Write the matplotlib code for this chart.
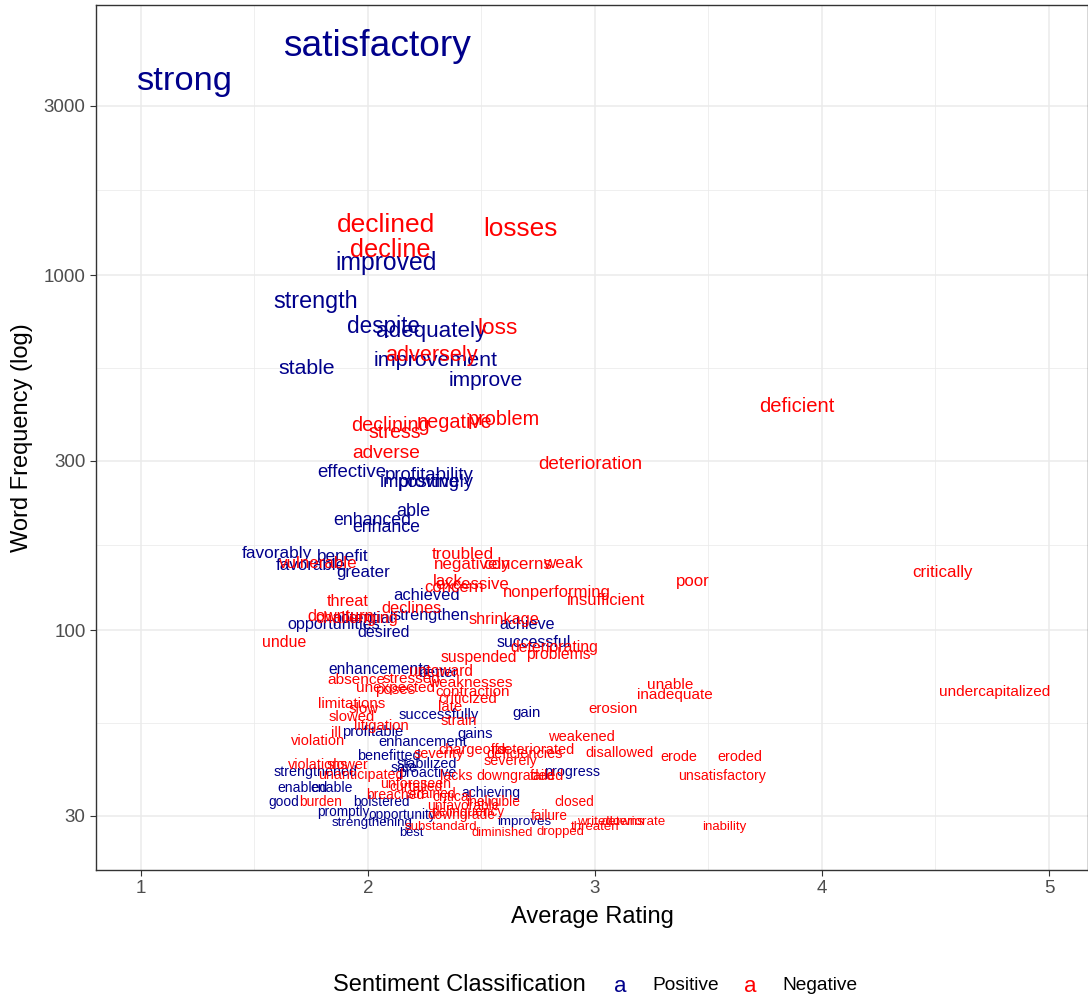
import numpy as np
from matplotlib import pyplot as plt
from matplotlib.ticker import FixedLocator, NullFormatter

plt.rcParams['font.family'] = ['Liberation Sans', 'DejaVu Sans']

POS_COLOR = '#00008B'
NEG_COLOR = '#FF0000'

# positive words: average rating, word frequency
pos_words = ['satisfactory', 'strong', 'improved', 'strength', 'despite', 'adequately',
             'improvement', 'stable', 'improve', 'effective', 'profitability', 'improving',
             'positively', 'able', 'enhanced', 'enhance', 'favorably', 'benefit', 'favorable',
             'greater', 'achieved', 'opportunities', 'desired', 'achieve', 'successful',
             'enhancements', 'better', 'successfully', 'gain', 'profitable', 'gains',
             'enhancement', 'benefitted', 'stabilized', 'strengthened', 'proactive', 'progress',
             'enabled', 'enable', 'achieving', 'good', 'bolstered', 'promptly', 'opportunity',
             'strengthening', 'improves', 'best', 'safe', 'potential', 'strengthen']
pos_rating = [2.04, 1.19, 2.08, 1.77, 2.07, 2.28,
              2.30, 1.73, 2.52, 1.93, 2.27, 2.23,
              2.30, 2.20, 2.02, 2.08, 1.60, 1.89, 1.75,
              1.98, 2.26, 1.85, 2.07, 2.70, 2.73,
              2.05, 2.31, 2.31, 2.70, 2.02, 2.47,
              2.24, 2.09, 2.26, 1.77, 2.26, 2.90,
              1.71, 1.84, 2.54, 1.63, 2.06, 1.89, 2.15,
              2.02, 2.69, 2.19, 2.16, 1.98, 2.28]
pos_freq = [4390, 3500, 1080, 840, 714, 695,
            576, 547, 506, 277, 273, 261,
            261, 216, 203, 195, 164, 161, 152,
            145, 125, 104, 98.7, 104, 92.5,
            77.6, 75.7, 57.6, 58.4, 51.6, 50.9,
            48.3, 44.2, 41.9, 39.8, 39.5, 39.8,
            35.9, 35.9, 34.7, 32.8, 32.8, 30.7, 30.1,
            28.6, 28.8, 26.8, 40.9, 108, 110]

# negative words
neg_words = ['declined', 'losses', 'decline', 'loss', 'adversely', 'deficient', 'problem',
             'negative', 'declining', 'stress', 'adverse', 'deterioration', 'troubled',
             'negatively', 'concerns', 'weak', 'vulnerable', 'lack', 'excessive', 'concern',
             'nonperforming', 'insufficient', 'poor', 'critically', 'threat', 'declines',
             'shrinkage', 'undue', 'deteriorating', 'problems', 'suspended', 'absence',
             'stressed', 'weaknesses', 'unexpected', 'poses', 'contraction', 'criticized',
             'limitations', 'late', 'slow', 'slowed', 'erosion', 'strain', 'litigation', 'ill',
             'weakened', 'violation', 'severity', 'chargeoffs', 'deteriorated', 'deficiencies',
             'severely', 'disallowed', 'erode', 'eroded', 'violations', 'slower',
             'unanticipated', 'lacks', 'downgraded', 'failed', 'unsatisfactory', 'unforeseen',
             'curtailed', 'strained', 'breached', 'critical', 'burden', 'unfavorable',
             'ineligible', 'closed', 'delinquency', 'downgrade', 'failure', 'substandard',
             'diminished', 'dropped', 'threaten', 'writedowns', 'deteriorate', 'inability',
             'undercapitalized', 'inadequate', 'unable', 'untoward', 'downturn', 'challenging']
neg_rating = [2.08, 2.67, 2.10, 2.57, 2.28, 3.89, 2.60,
              2.38, 2.10, 2.12, 2.08, 2.98, 2.42,
              2.46, 2.66, 2.86, 1.78, 2.35, 2.46, 2.38,
              2.83, 3.05, 3.43, 4.53, 1.91, 2.19,
              2.60, 1.63, 2.82, 2.84, 2.49, 1.95,
              2.19, 2.45, 2.12, 2.12, 2.46, 2.44,
              1.93, 2.36, 1.98, 1.93, 3.08, 2.40, 2.06, 1.86,
              2.94, 1.78, 2.31, 2.46, 2.74, 2.69,
              2.63, 3.11, 3.37, 3.64, 1.78, 1.91,
              1.97, 2.39, 2.65, 2.79, 3.56, 2.21,
              2.21, 2.28, 2.12, 2.37, 1.79, 2.42,
              2.55, 2.91, 2.44, 2.41, 2.80, 2.32,
              2.59, 2.85, 3.00, 3.07, 3.17, 3.57,
              4.76, 3.35, 3.33, 2.32, 1.88, 1.95]
neg_freq = [1384, 1349, 1176, 709, 595, 427, 391,
            383, 378, 359, 315, 292, 163,
            153, 153, 154, 154, 137, 134, 132,
            128, 121, 137, 145, 120, 115,
            107, 92.5, 89.6, 85.6, 83.9, 72.3,
            72.7, 70.9, 68.7, 67.8, 66.9, 63.9,
            61.9, 60.7, 59.9, 56.9, 59.9, 55.4, 53.7, 51.3,
            50.0, 48.7, 44.8, 45.9, 45.9, 44.8,
            42.8, 45.1, 43.9, 43.9, 41.7, 41.7,
            39.0, 38.8, 38.8, 38.8, 38.8, 36.8,
            36.1, 34.5, 34.3, 33.9, 32.8, 31.9,
            32.8, 32.8, 30.7, 30.1, 29.9, 27.9,
            26.8, 27.0, 27.9, 28.8, 28.8, 27.9,
            66.9, 65.6, 70.0, 76.6, 109, 108]

y_ticks = [30, 100, 300, 1000, 3000]
x_ticks = [1, 2, 3, 4, 5]

all_freq = np.array(pos_freq + neg_freq)
fmin, fmax = all_freq.min(), all_freq.max()


def text_size(f):
    # area style scaling of frequency onto a font size range
    return 9.3 + (26.7 - 9.3) * np.sqrt((f - fmin) / (fmax - fmin))


fig = plt.figure(figsize=(10.88, 9.99), dpi=100)
ax = fig.add_axes([96 / 1088, 1 - 870 / 999, 992 / 1088, 865 / 999])
ax.set_yscale('log')
ax.set_xlim(0.802, 5.172)
ax.set_ylim(21.1, 5760)

major_y = np.log10(y_ticks)
minor_y = 10 ** ((major_y[:-1] + major_y[1:]) / 2)
ax.yaxis.set_major_locator(FixedLocator(y_ticks))
ax.yaxis.set_minor_locator(FixedLocator(minor_y))
ax.yaxis.set_minor_formatter(NullFormatter())
ax.set_yticklabels([str(t) for t in y_ticks])
ax.xaxis.set_major_locator(FixedLocator(x_ticks))
ax.xaxis.set_minor_locator(FixedLocator([1.5, 2.5, 3.5, 4.5]))
ax.set_xticklabels([str(t) for t in x_ticks])

ax.grid(which='major', color='#EBEBEB', linewidth=1.1)
ax.grid(which='minor', color='#EBEBEB', linewidth=0.55)
ax.set_axisbelow(True)
ax.tick_params(which='major', length=4.5, width=0.8, color='#333333',
               labelsize=13.5, labelcolor='#4D4D4D', pad=3)
ax.tick_params(which='minor', length=0)
for s in ax.spines.values():
    s.set_color('#333333')
    s.set_linewidth(1.0)

for words, xs, ys, col in [(pos_words, pos_rating, pos_freq, POS_COLOR),
                            (neg_words, neg_rating, neg_freq, NEG_COLOR)]:
    for w, x, y in zip(words, xs, ys):
        ax.text(x, y, w, color=col, fontsize=text_size(y),
                ha='center', va='center', clip_on=True)

ax.set_xlabel('Average Rating', fontsize=17, labelpad=6)
ax.set_ylabel('Word Frequency (log)', fontsize=17, labelpad=8)

# legend along the bottom
fig.text(333 / 1088, 1 - 985 / 999, 'Sentiment Classification', fontsize=17,
         ha='left', va='center')
fig.text(620 / 1088, 1 - 986 / 999, 'a', fontsize=16, color=POS_COLOR,
         ha='center', va='center')
fig.text(652 / 1088, 1 - 985 / 999, 'Positive', fontsize=13.8, ha='left', va='center')
fig.text(750 / 1088, 1 - 986 / 999, 'a', fontsize=16, color=NEG_COLOR,
         ha='center', va='center')
fig.text(782 / 1088, 1 - 985 / 999, 'Negative', fontsize=13.8, ha='left', va='center')

fig.savefig('out.png', dpi=100)
